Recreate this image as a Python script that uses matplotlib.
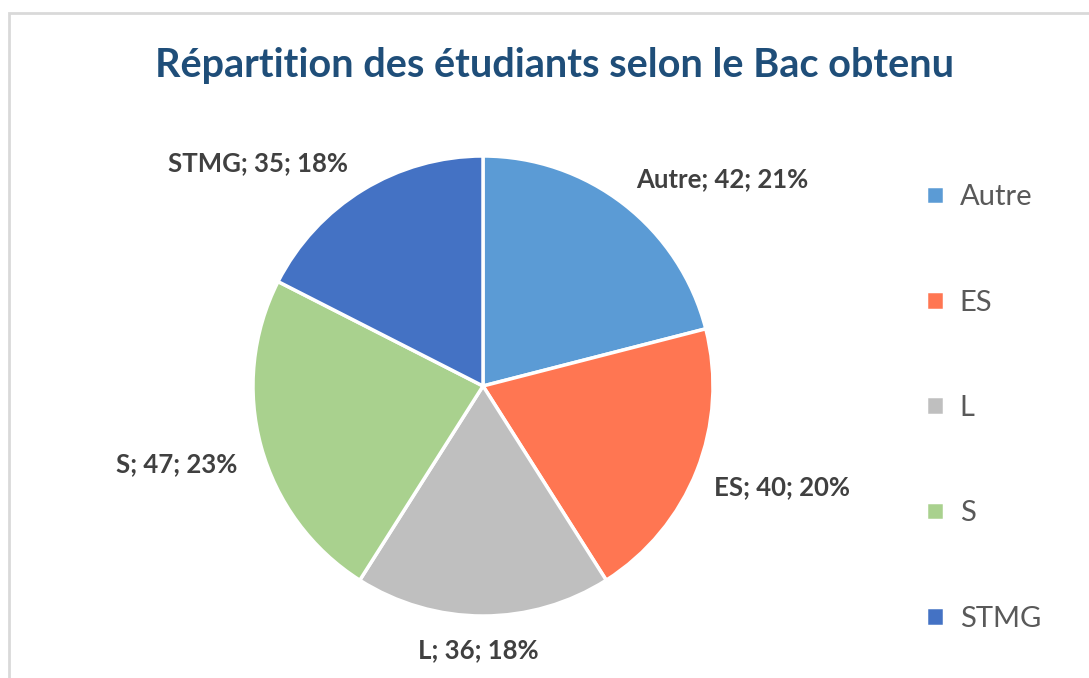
import matplotlib.pyplot as plt
from matplotlib.patches import Rectangle

categories = ['Autre', 'ES', 'L', 'S', 'STMG']
counts = [42, 40, 36, 47, 35]
percents = [21, 20, 18, 23, 18]
colors = ['#5B9BD5', '#FF7652', '#BFBFBF', '#A9D18E', '#4472C4']

W, H = 1089, 678
fig = plt.figure(figsize=(W / 100, H / 100), dpi=100)
plt.rcParams['font.family'] = ['Lato', 'DejaVu Sans']

# light frame of the chart area
fig.patches.append(Rectangle((9 / W, -0.1), 1.2, (H - 13) / H + 0.1,
                             transform=fig.transFigure, fill=False,
                             edgecolor='#D9D9D9', linewidth=2))

cx, cy, r = 483, 386, 230
ax = fig.add_axes([(cx - r) / W, (H - cy - r) / H, 2 * r / W, 2 * r / H])
wedges, _ = ax.pie(counts, colors=colors, startangle=90, counterclock=False,
                   wedgeprops=dict(edgecolor='white', linewidth=2.5))
ax.set_xlim(-1, 1)
ax.set_ylim(-1, 1)
ax.set_aspect('equal')
ax.axis('off')

label_pos = [(1.04, 0.90), (1.30, -0.44), (-0.02, -1.15), (-1.33, -0.34), (-0.98, 0.97)]
for cat, n, p, (lx, ly) in zip(categories, counts, percents, label_pos):
    ax.text(lx, ly, f'{cat}; {n}; {p}%', ha='center', va='center',
            fontsize=18.5, fontweight='bold', color='#404040', clip_on=False)

fig.text(0.509, (H - 66) / H, 'Répartition des étudiants selon le Bac obtenu',
         ha='center', va='center', fontsize=28.5, fontweight='bold', color='#1F4E79')

leg = fig.legend(wedges, categories, loc='upper left',
                 bbox_to_anchor=(900 / W, (H - 158) / H), frameon=False,
                 fontsize=21, labelspacing=2.72, handlelength=0.6, handleheight=0.6,
                 handletextpad=0.55, labelcolor='#595959')

fig.savefig('out.png', dpi=100)
